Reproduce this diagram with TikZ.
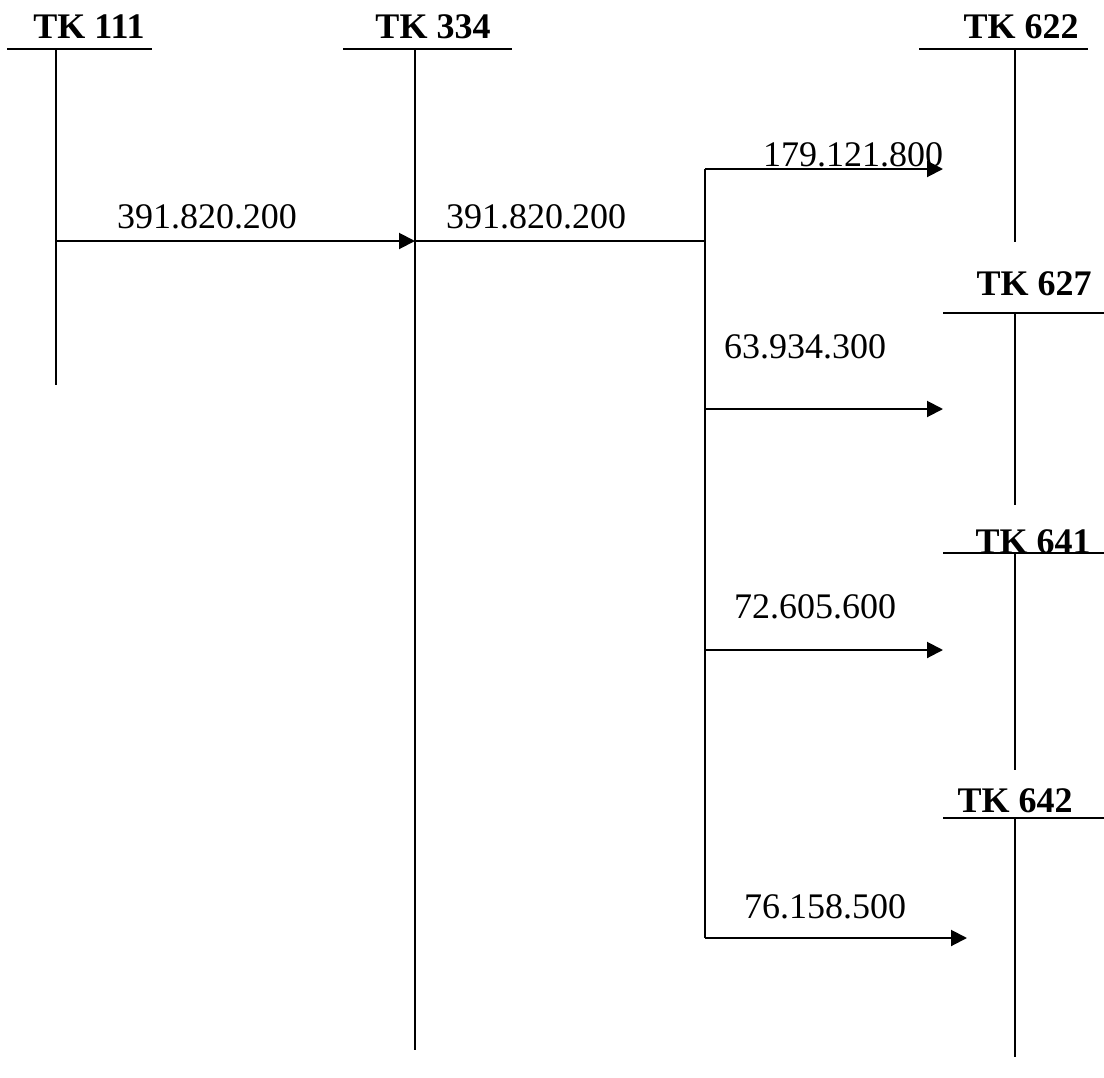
\documentclass[tikz,border=0pt]{standalone}
\usepackage{fontspec}
\setmainfont{Liberation Serif}
\usetikzlibrary{arrows.meta}
\begin{document}
\begin{tikzpicture}[x=0.75pt,y=-0.75pt,
  ln/.style={line width=1.5pt},
  arr/.style={ln,-{Triangle[length=12pt,width=12pt]}},
  title/.style={anchor=base,inner sep=0pt,font=\fontsize{27}{32}\selectfont\bfseries},
  amt/.style={anchor=base,inner sep=0pt,font=\fontsize{27}{32}\selectfont}]
\useasboundingbox (0,0) rectangle (1104,1078);
% titles
\node[title] (t111) at (89,38) {TK 111};
\node[title] (t334) at (433,38) {TK 334};
\node[title] (t622) at (1021,38) {TK 622};
\node[title] (t627) at (1034,295) {TK 627};
\node[title] (t641) at (1033,553) {TK 641};
\node[title] (t642) at (1015,812) {TK 642};
% T-account lines
\draw[ln] (7,49) -- (152,49);   \draw[ln] (56,49) coordinate (a111) -- (56,385) coordinate (b111);
\draw[ln] (343,49) -- (512,49); \draw[ln] (415,49) coordinate (a334) -- (415,1050) coordinate (b334);
\draw[ln] (919,49) -- (1088,49); \draw[ln] (1015,49) -- (1015,242);
\draw[ln] (943,313) -- (1104,313); \draw[ln] (1015,313) -- (1015,505);
\draw[ln] (943,553) -- (1104,553); \draw[ln] (1015,553) -- (1015,770);
\draw[ln] (943,818) -- (1104,818); \draw[ln] (1015,818) -- (1015,1057);
% flows
\coordinate (s1) at (56,241);
\coordinate (e1) at (415,241);
\coordinate (br) at (705,241);
\coordinate (bt) at (705,169);
\coordinate (bb) at (705,938);
\coordinate (p2) at (705,409);
\coordinate (p3) at (705,650);
\coordinate (h1) at (943,169);
\coordinate (h2) at (943,409);
\coordinate (h3) at (943,650);
\coordinate (h4) at (967,938);
\draw[arr] (s1) -- (e1);
\draw[ln] (e1) -- (br);
\draw[ln] (bt) -- (bb);
\draw[arr] (bt) -- (h1);
\draw[arr] (p2) -- (h2);
\draw[arr] (p3) -- (h3);
\draw[arr] (bb) -- (h4);
% amounts
\node[amt] (m1) at (207,228) {391.820.200};
\node[amt] (m2) at (536,228) {391.820.200};
\node[amt] (m3) at (853,166) {179.121.800};
\node[amt] (m4) at (805,358) {63.934.300};
\node[amt] (m5) at (815,618) {72.605.600};
\node[amt] (m6) at (825,918) {76.158.500};
\end{tikzpicture}
\end{document}
